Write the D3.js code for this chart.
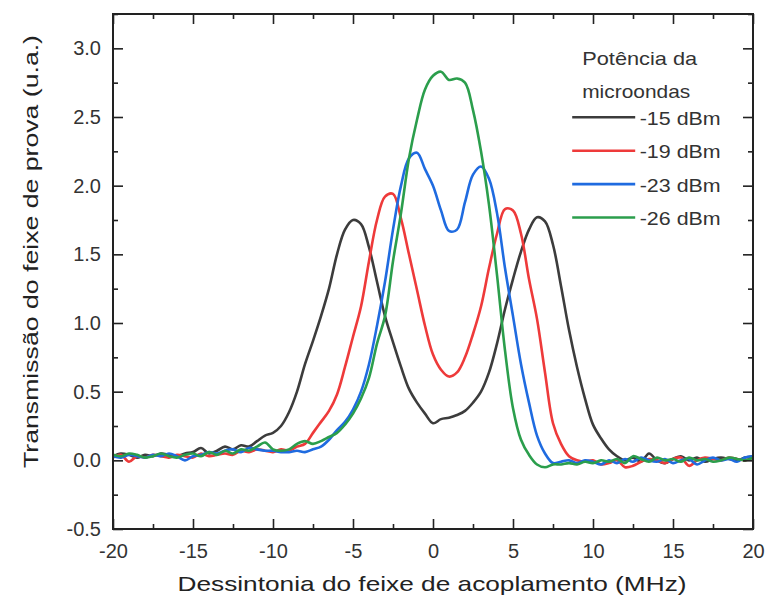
<!DOCTYPE html>
<html>
<head>
<meta charset="utf-8">
<script src="https://cdn.jsdelivr.net/npm/d3@7"></script>
<style>
  body { margin: 0; background: #fff; }
  svg { font-family: "Liberation Sans", Arial, sans-serif; }
  .axis path, .axis line { stroke: #222; }
  .axis text { fill: #333; font-size: 20px; }
</style>
</head>
<body>
<svg id="chart" width="766" height="599"></svg>
<script>
'use strict';

// detuning (MHz), shared by every trace
var detuning = [-20, -19.5, -19, -18.5, -18, -17.5, -17, -16.5, -16, -15.5,
  -15, -14.5, -14, -13.5, -13, -12.5, -12, -11.5, -11, -10.5,
  -10, -9.5, -9, -8.5, -8, -7.5, -7, -6.5, -6, -5.5,
  -5, -4.5, -4, -3.5, -3, -2.5, -2, -1.5, -1, -0.5,
  0, 0.5, 1, 1.5, 2, 2.5, 3, 3.5, 4, 4.5,
  5, 5.5, 6, 6.5, 7, 7.5, 8, 8.5, 9, 9.5,
  10, 10.5, 11, 11.5, 12, 12.5, 13, 13.5, 14, 14.5,
  15, 15.5, 16, 16.5, 17, 17.5, 18, 18.5, 19, 19.5, 20];

var trans15 = [0.03, 0.05, 0.04, 0.02, 0.04, 0.03, 0.05, 0.04, 0.03, 0.05,
  0.06, 0.09, 0.05, 0.07, 0.10, 0.08, 0.11, 0.10, 0.14, 0.18,
  0.20, 0.25, 0.35, 0.50, 0.70, 0.87, 1.05, 1.25, 1.50, 1.68,
  1.75, 1.72, 1.55, 1.30, 1.05, 0.86, 0.68, 0.52, 0.42, 0.34,
  0.27, 0.30, 0.31, 0.33, 0.36, 0.42, 0.50, 0.64, 0.85, 1.10,
  1.32, 1.52, 1.68, 1.77, 1.74, 1.57, 1.27, 0.95, 0.68, 0.45,
  0.26, 0.16, 0.08, 0.03, 0.00, 0.02, -0.01, 0.05, 0.00, -0.02,
  0.01, 0.03, 0.00, 0.02, -0.01, 0.01, 0.02, 0.01, 0.00, 0.02, 0.03];

var trans19 = [0.02, 0.04, -0.01, 0.03, 0.02, 0.04, 0.03, 0.02, 0.04, 0.03,
  0.02, 0.05, 0.03, 0.04, 0.05, 0.04, 0.07, 0.06, 0.08, 0.07,
  0.06, 0.08, 0.07, 0.10, 0.12, 0.20, 0.28, 0.36, 0.48, 0.68,
  0.90, 1.12, 1.45, 1.75, 1.92, 1.94, 1.76, 1.50, 1.24, 0.98,
  0.77, 0.66, 0.61, 0.64, 0.75, 0.92, 1.12, 1.40, 1.65, 1.83,
  1.82, 1.65, 1.32, 1.03, 0.64, 0.27, 0.12, 0.03, 0.00, -0.01,
  0.00, -0.03, -0.02, 0.00, -0.05, -0.04, -0.01, 0.01, 0.00, -0.02,
  0.01, 0.02, -0.04, 0.00, 0.02, 0.01, 0.00, 0.02, 0.01, 0.00, 0.02];

var trans23 = [0.03, 0.02, 0.04, 0.03, 0.02, 0.04, 0.03, 0.05, 0.03, 0.00,
  0.03, 0.04, 0.06, 0.05, 0.07, 0.08, 0.06, 0.09, 0.08, 0.07,
  0.07, 0.06, 0.06, 0.07, 0.06, 0.08, 0.10, 0.15, 0.22, 0.28,
  0.37, 0.50, 0.70, 0.98, 1.30, 1.68, 2.00, 2.20, 2.24, 2.12,
  2.00, 1.82, 1.67, 1.68, 1.88, 2.08, 2.14, 2.05, 1.80, 1.40,
  1.05, 0.70, 0.42, 0.18, 0.05, -0.02, -0.01, 0.00, -0.02, 0.00,
  -0.01, -0.03, 0.00, -0.02, 0.01, -0.01, 0.02, 0.00, -0.01, 0.01,
  -0.02, 0.00, 0.01, -0.03, 0.00, 0.02, 0.00, 0.01, -0.01, 0.02, 0.03];

var trans26 = [0.04, 0.03, 0.05, 0.04, 0.02, 0.03, 0.05, 0.03, 0.02, 0.04,
  0.05, 0.03, 0.06, 0.04, 0.07, 0.05, 0.08, 0.07, 0.10, 0.13,
  0.08, 0.07, 0.08, 0.12, 0.14, 0.12, 0.14, 0.17, 0.20, 0.26,
  0.34, 0.45, 0.60, 0.85, 1.05, 1.45, 1.80, 2.20, 2.48, 2.70,
  2.80, 2.83, 2.77, 2.78, 2.75, 2.55, 2.25, 1.86, 1.35, 0.80,
  0.38, 0.15, 0.04, -0.03, -0.05, -0.03, -0.03, -0.02, -0.03, -0.01,
  -0.02, 0.00, -0.01, 0.01, -0.02, 0.03, 0.01, -0.01, 0.02, 0.00,
  0.01, -0.01, 0.02, 0.00, 0.01, -0.01, 0.00, 0.02, 0.01, 0.00, 0.02];

var seriesNames = ['-15 dBm', '-19 dBm', '-23 dBm', '-26 dBm'];
var seriesValues = [trans15, trans19, trans23, trans26];
var seriesColors = ['#3c3c3c', '#ee3a3a', '#1f6be0', '#2b9e4c'];

var xTicks = [-20, -15, -10, -5, 0, 5, 10, 15, 20];
var xMinor = [-17.5, -12.5, -7.5, -2.5, 2.5, 7.5, 12.5, 17.5];
var yTicks = [-0.5, 0, 0.5, 1, 1.5, 2, 2.5, 3];
var yMinor = [-0.25, 0.25, 0.75, 1.25, 1.75, 2.25, 2.75, 3.25];

var margin = { top: 14, right: 13, bottom: 70, left: 113 };
var svg = d3.select('#chart');
var width = +svg.attr('width') - margin.left - margin.right;
var height = +svg.attr('height') - margin.top - margin.bottom;

var xScale = d3.scaleLinear().domain([-20, 20]).range([0, width]);
var yScale = d3.scaleLinear().domain([-0.5, 3.25]).range([height, 0]);

var g = svg.append('g').attr('transform', 'translate(' + margin.left + ',' + margin.top + ')');

//Curves
var line = d3.line()
  .x(function (d, i) { return xScale(detuning[i]); })
  .y(function (d) { return yScale(d); })
  .curve(d3.curveCatmullRom.alpha(0.5));

seriesValues.forEach(function (vals, k) {
  g.append('path').datum(vals)
    .attr('fill', 'none')
    .attr('stroke', seriesColors[k])
    .attr('stroke-width', 2.6)
    .attr('stroke-linejoin', 'round')
    .attr('d', line);
});

//Axes, ticks pointing inward
g.append('g').attr('class', 'axis').attr('transform', 'translate(0,' + height + ')')
  .call(d3.axisBottom(xScale).tickValues(xTicks).tickSize(-10).tickPadding(15).tickFormat(function (d) { return String(d); }));
g.append('g').attr('class', 'axis').attr('transform', 'translate(0,' + height + ')')
  .call(d3.axisBottom(xScale).tickValues(xMinor).tickSize(-5).tickFormat(''));
g.append('g').attr('class', 'axis')
  .call(d3.axisTop(xScale).tickValues(xTicks).tickSize(-10).tickFormat(''));
g.append('g').attr('class', 'axis')
  .call(d3.axisTop(xScale).tickValues(xMinor).tickSize(-5).tickFormat(''));

g.append('g').attr('class', 'axis')
  .call(d3.axisLeft(yScale).tickValues(yTicks).tickSize(-10).tickPadding(12).tickFormat(function (d) { return d.toFixed(1); }));
g.append('g').attr('class', 'axis')
  .call(d3.axisLeft(yScale).tickValues(yMinor).tickSize(-5).tickFormat(''));
g.append('g').attr('class', 'axis').attr('transform', 'translate(' + width + ',0)')
  .call(d3.axisRight(yScale).tickValues(yTicks).tickSize(-10).tickFormat(''));
g.append('g').attr('class', 'axis').attr('transform', 'translate(' + width + ',0)')
  .call(d3.axisRight(yScale).tickValues(yMinor).tickSize(-5).tickFormat(''));

g.selectAll('.axis path.domain').remove();
g.selectAll('.axis line').attr('stroke-width', 1.6);

//Frame
g.append('rect').attr('width', width).attr('height', height)
  .attr('fill', 'none').attr('stroke', '#222').attr('stroke-width', 2);

//Axis titles
g.append('text').attr('x', width / 2 - 1).attr('y', height + 62)
  .attr('text-anchor', 'middle').attr('fill', '#222').style('font-size', '21px')
  .attr('textLength', 509).attr('lengthAdjust', 'spacingAndGlyphs')
  .text('Dessintonia do feixe de acoplamento (MHz)');

g.append('text').attr('transform', 'rotate(-90)')
  .attr('x', -237.5).attr('y', -75)
  .attr('text-anchor', 'middle').attr('fill', '#222').style('font-size', '21px')
  .attr('textLength', 433).attr('lengthAdjust', 'spacingAndGlyphs')
  .text('Transmissão do feixe de prova (u.a.)');

//Legend
var legend = g.append('g').attr('transform', 'translate(' + (xScale(8.7)) + ',0)');
legend.append('text').attr('x', 10).attr('y', 51).attr('fill', '#333').style('font-size', '19px')
  .attr('textLength', 115).attr('lengthAdjust', 'spacingAndGlyphs').text('Potência da');
legend.append('text').attr('x', 10).attr('y', 83.5).attr('fill', '#333').style('font-size', '19px')
  .attr('textLength', 108).attr('lengthAdjust', 'spacingAndGlyphs').text('microondas');

seriesNames.forEach(function (name, k) {
  var yy = 103.3 + k * 33.4;
  legend.append('line').attr('x1', 0).attr('x2', 63).attr('y1', yy).attr('y2', yy)
    .attr('stroke', seriesColors[k]).attr('stroke-width', 2.6);
  legend.append('text').attr('x', 67.5).attr('y', yy + 7.5).attr('fill', '#333')
    .style('font-size', '19px')
    .attr('textLength', 81).attr('lengthAdjust', 'spacingAndGlyphs').text(name);
});
</script>
</body>
</html>
